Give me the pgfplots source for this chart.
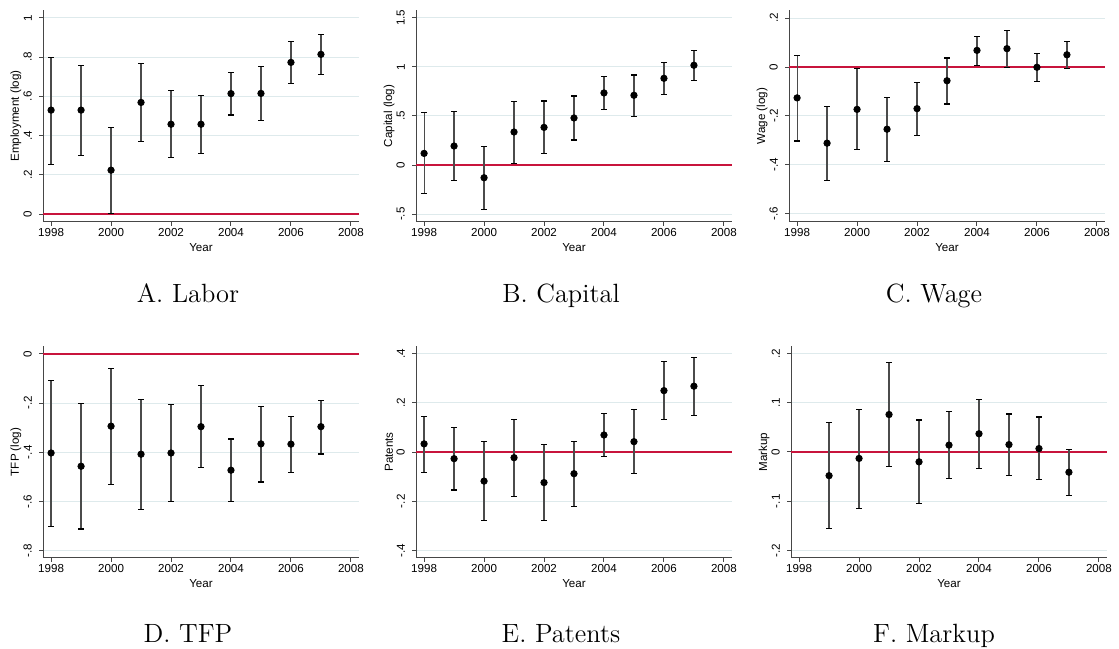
\documentclass[border=0pt]{standalone}
\usepackage{fontspec}
\usepackage{pgfplots}
\usepackage{pgfplotstable}
\pgfplotsset{compat=1.18}
\newfontfamily\statafont{Liberation Sans}
\definecolor{gridc}{RGB}{222,234,236}
\definecolor{zeroc}{RGB}{200,20,60}
\definecolor{barc}{RGB}{75,75,75}
\definecolor{axc}{RGB}{70,70,70}

\pgfplotstableread{
x y hi lo
1998 0.530 0.798 0.254
1999 0.530 0.758 0.300
2000 0.224 0.441 0.003
2001 0.569 0.766 0.371
2002 0.458 0.629 0.288
2003 0.458 0.603 0.308
2004 0.614 0.722 0.505
2005 0.615 0.753 0.478
2006 0.773 0.878 0.664
2007 0.814 0.914 0.710
}\labortab
\pgfplotstableread{
x y hi lo
1998 0.119 0.537 -0.293
1999 0.194 0.548 -0.160
2000 -0.129 0.190 -0.452
2001 0.337 0.646 0.020
2002 0.384 0.653 0.116
2003 0.480 0.704 0.255
2004 0.735 0.901 0.565
2005 0.711 0.918 0.493
2006 0.884 1.044 0.721
2007 1.017 1.163 0.864
}\capitaltab
\pgfplotstableread{
x y hi lo
1998 -0.126 0.046 -0.302
1999 -0.311 -0.162 -0.465
2000 -0.173 -0.005 -0.338
2001 -0.254 -0.125 -0.385
2002 -0.170 -0.062 -0.280
2003 -0.056 0.037 -0.151
2004 0.068 0.125 0.008
2005 0.075 0.151 -0.001
2006 -0.001 0.056 -0.060
2007 0.050 0.103 -0.007
}\wagetab
\pgfplotstableread{
x y hi lo
1998 -0.403 -0.107 -0.701
1999 -0.457 -0.203 -0.712
2000 -0.294 -0.058 -0.530
2001 -0.408 -0.186 -0.631
2002 -0.403 -0.207 -0.599
2003 -0.296 -0.130 -0.462
2004 -0.473 -0.346 -0.599
2005 -0.366 -0.213 -0.521
2006 -0.367 -0.255 -0.484
2007 -0.296 -0.188 -0.407
}\tfptab
\pgfplotstableread{
x y hi lo
1998 0.033 0.144 -0.082
1999 -0.027 0.101 -0.154
2000 -0.118 0.042 -0.278
2001 -0.023 0.131 -0.181
2002 -0.124 0.029 -0.279
2003 -0.088 0.044 -0.220
2004 0.069 0.158 -0.020
2005 0.042 0.171 -0.088
2006 0.249 0.369 0.131
2007 0.267 0.384 0.148
}\patenttab
\pgfplotstableread{
x y hi lo
1999 -0.048 0.059 -0.156
2000 -0.013 0.086 -0.114
2001 0.076 0.182 -0.029
2002 -0.020 0.065 -0.105
2003 0.014 0.082 -0.054
2004 0.037 0.106 -0.033
2005 0.015 0.077 -0.048
2006 0.007 0.071 -0.056
2007 -0.041 0.005 -0.088
}\markuptab

\pgfplotsset{
  statastyle/.style={
    scale only axis, width=158pt, height=106pt,
    axis x line*=bottom, axis y line*=left,
    axis line style={-, axc, line width=0.5pt},
    tick align=outside, major tick length=1.8pt,
    tick style={axc, line width=0.5pt},
    xmin=1997.73, xmax=2008.27,
    xtick={1998,2000,2002,2004,2006,2008},
    xticklabels={1998,2000,2002,2004,2006,2008},
    tick label style={font=\statafont\fontsize{5.8}{6.5}\selectfont, inner sep=1pt},
    yticklabel style={rotate=90, anchor=south, yshift=2.6pt},
    label style={font=\statafont\fontsize{5.8}{6.5}\selectfont, inner sep=0pt},
    xlabel={Year},
    xlabel style={at={(axis description cs:0.5,0)}, anchor=center, yshift=-13pt},
    ylabel style={at={(axis description cs:0,0.5)}, anchor=center, yshift=13.5pt},
    ymajorgrids, grid style={gridc, line width=0.5pt},
    clip=false,
  },
  zeroline/.style={draw=zeroc, color=zeroc, line width=0.7pt, no markers, forget plot},
  coefplot/.style={only marks, mark=*, mark size=1.6pt, black,
    error bars/.cd, y dir=both, y explicit,
    error bar style={barc, line width=0.6pt},
    error mark=|,
    error mark options={black, line width=0.55pt, mark size=1.4pt}},
  table/coeftab/.style={x=x, y=y, y error plus expr=\thisrow{hi}-\thisrow{y}, y error minus expr=\thisrow{y}-\thisrow{lo}},
}

\begin{document}
\begin{tikzpicture}
\useasboundingbox (0,0) rectangle (559.5pt,324pt);

% A. Labor
\begin{axis}[statastyle, at={(21.5pt,213pt)}, anchor=south west,
  ymin=-0.04, ymax=1.04, ytick={0,0.2,0.4,0.6,0.8,1},
  yticklabels={0,.2,.4,.6,.8,1}, ylabel={Employment (log)}]
\addplot[zeroline] coordinates {(1997.73,0) (2008.27,0)};
\addplot[coefplot] table[coeftab] {\labortab};
\end{axis}

% B. Capital
\begin{axis}[statastyle, at={(208pt,213pt)}, anchor=south west,
  ymin=-0.58, ymax=1.58, ytick={-0.5,0,0.5,1,1.5},
  yticklabels={-.5,0,.5,1,1.5}, ylabel={Capital (log)}]
\addplot[zeroline] coordinates {(1997.73,0) (2008.27,0)};
\addplot[coefplot] table[coeftab] {\capitaltab};
\end{axis}

% C. Wage
\begin{axis}[statastyle, at={(394.5pt,213pt)}, anchor=south west,
  ymin=-0.633, ymax=0.233, ytick={-0.6,-0.4,-0.2,0,0.2},
  yticklabels={-.6,-.4,-.2,0,.2}, ylabel={Wage (log)}]
\addplot[zeroline] coordinates {(1997.73,0) (2008.27,0)};
\addplot[coefplot] table[coeftab] {\wagetab};
\end{axis}

% D. TFP
\begin{axis}[statastyle, at={(21.5pt,45pt)}, anchor=south west,
  ymin=-0.83, ymax=0.032, ytick={-0.8,-0.6,-0.4,-0.2,0},
  yticklabels={-.8,-.6,-.4,-.2,0}, ylabel={TFP (log)}]
\addplot[coefplot] table[coeftab] {\tfptab};
\addplot[zeroline] coordinates {(1997.73,0) (2008.27,0)};
\end{axis}

% E. Patents
\begin{axis}[statastyle, at={(208pt,45pt)}, anchor=south west,
  ymin=-0.43, ymax=0.43, ytick={-0.4,-0.2,0,0.2,0.4},
  yticklabels={-.4,-.2,0,.2,.4}, ylabel={Patents}]
\addplot[zeroline] coordinates {(1997.73,0) (2008.27,0)};
\addplot[coefplot] table[coeftab] {\patenttab};
\end{axis}

% F. Markup
\begin{axis}[statastyle, at={(395.5pt,45pt)}, anchor=south west,
  ymin=-0.215, ymax=0.215, ytick={-0.2,-0.1,0,0.1,0.2},
  yticklabels={-.2,-.1,0,.1,.2}, ylabel={Markup}]
\addplot[zeroline] coordinates {(1997.73,0) (2008.27,0)};
\addplot[coefplot] table[coeftab] {\markuptab};
\end{axis}

\begin{scope}[every node/.style={font=\fontsize{13.2}{15}\selectfont, anchor=base, inner sep=0pt}]
\node at (94pt,172.5pt) {A. Labor};
\node at (280.5pt,172.5pt) {B. Capital};
\node at (467pt,172.5pt) {C. Wage};
\node at (94pt,3pt) {D. TFP};
\node at (280.5pt,3pt) {E. Patents};
\node at (467pt,3pt) {F. Markup};
\end{scope}
\end{tikzpicture}
\end{document}
